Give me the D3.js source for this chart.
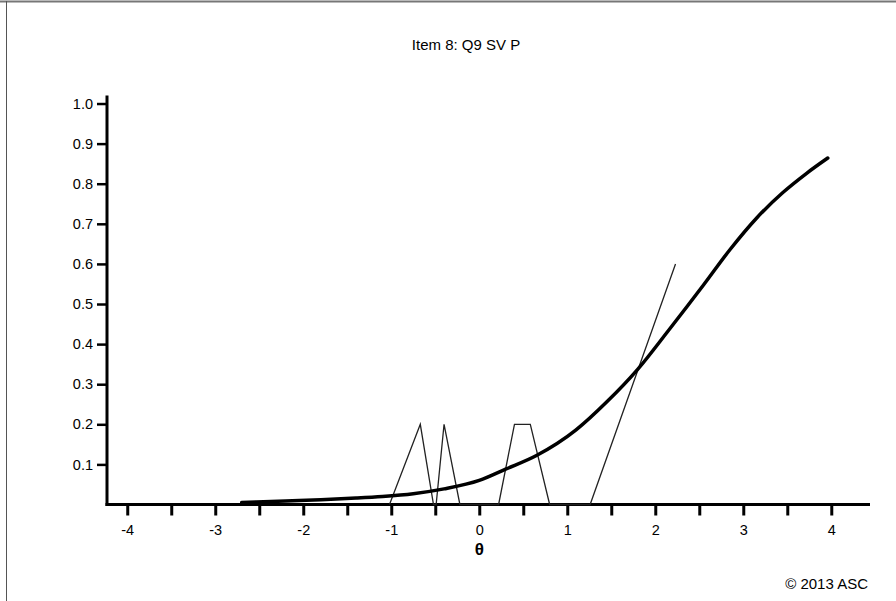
<!DOCTYPE html>
<html>
<head>
<meta charset="utf-8">
<script src="https://cdn.jsdelivr.net/npm/d3@7"></script>
<style>
  body { margin: 0; background: #fff; }
  svg { display: block; font-family: "Liberation Sans", Arial, sans-serif; }
</style>
</head>
<body>
<div id="chart"></div>
<script>
const width = 896;
const height = 601;

const title = "Item 8: Q9 SV P";
const xTicks = [-4, -3, -2, -1, 0, 1, 2, 3, 4];
const xMinorTicks = [-4, -3.5, -3, -2.5, -2, -1.5, -1, -0.5, 0, 0.5, 1, 1.5, 2, 2.5, 3, 3.5, 4];
const yTicks = [0.1, 0.2, 0.3, 0.4, 0.5, 0.6, 0.7, 0.8, 0.9, 1.0];

// item characteristic curve
const iccTheta = [-2.70, -2.2, -1.8, -1.4, -1.1, -0.75, -0.4, 0, 0.3, 0.65, 1.1, 1.45, 1.8, 2.15, 2.55, 2.85, 3.15, 3.45, 3.72, 3.96];
const iccProb  = [0.005, 0.009, 0.012, 0.016, 0.020, 0.027, 0.039, 0.060, 0.088, 0.122, 0.186, 0.256, 0.337, 0.434, 0.548, 0.636, 0.714, 0.778, 0.826, 0.864];

// observed proportions
const obsTheta = [-1.02, -0.67, -0.52, -0.49, -0.40, -0.22, 0.22, 0.40, 0.58, 0.80, 1.26, 2.23];
const obsProb  = [0, 0.2, 0, 0, 0.2, 0, 0, 0.2, 0.2, 0, 0, 0.6];

const svg = d3.select("#chart")
    .append("svg")
    .attr("width", width)
    .attr("height", height);

// frame
svg.append("line").attr("x1", 0).attr("x2", width).attr("y1", 1.5).attr("y2", 1.5)
    .attr("stroke", "#777").attr("stroke-width", 2);
svg.append("line").attr("x1", 6.5).attr("x2", 6.5).attr("y1", 1).attr("y2", height)
    .attr("stroke", "#555").attr("stroke-width", 1);

let x = d3.scaleLinear().domain([-4.23, 4.44]).range([107, 870]);
let y = d3.scaleLinear().domain([0, 1.02]).range([504.5, 95.5]);

svg.append("text")
    .attr("x", 466).attr("y", 50)
    .attr("text-anchor", "middle")
    .attr("font-size", 15)
    .text(title);

// y axis
let yAxis = d3.axisLeft(y)
    .tickValues(yTicks)
    .tickFormat(d3.format(".1f"))
    .tickSize(10)
    .tickPadding(4);
let gy = svg.append("g").attr("transform", "translate(107,0)").call(yAxis);
gy.select(".domain").remove();
gy.selectAll(".tick line").attr("stroke", "#000").attr("stroke-width", 2.5);
gy.selectAll(".tick text").attr("font-size", 14.5).attr("fill", "#000")
    .attr("font-family", "Liberation Sans, Arial, sans-serif");
svg.append("line").attr("x1", 107).attr("x2", 107).attr("y1", y(1.02)).attr("y2", 506)
    .attr("stroke", "#000").attr("stroke-width", 3);

// x axis
let gx = svg.append("g").attr("transform", "translate(0,504.5)")
    .call(d3.axisBottom(x).tickValues(xMinorTicks).tickSize(11).tickFormat(""));
gx.select(".domain").remove();
gx.selectAll(".tick line").attr("stroke", "#000").attr("stroke-width", 3);
let gxl = svg.append("g").attr("transform", "translate(0,504.5)")
    .call(d3.axisBottom(x).tickValues(xTicks).tickSize(0).tickPadding(20).tickFormat(d => String(d)));
gxl.select(".domain").remove();
gxl.selectAll(".tick text").attr("font-size", 14.5).attr("fill", "#000")
    .attr("font-family", "Liberation Sans, Arial, sans-serif");
svg.append("line").attr("x1", 105.5).attr("x2", 870).attr("y1", 504.5).attr("y2", 504.5)
    .attr("stroke", "#000").attr("stroke-width", 3);

svg.append("text")
    .attr("x", x(0)).attr("y", 555)
    .attr("text-anchor", "middle")
    .attr("font-size", 17)
    .attr("font-weight", "bold")
    .text("θ");

svg.append("text")
    .attr("x", 868).attr("y", 589)
    .attr("text-anchor", "end")
    .attr("font-size", 15)
    .text("© 2013 ASC");

let lineGenerator = d3.line()
    .x(d => x(d[0]))
    .y(d => y(d[1]));

svg.append("path")
    .attr("d", lineGenerator(d3.zip(obsTheta, obsProb)))
    .attr("fill", "none")
    .attr("stroke", "#222")
    .attr("stroke-width", 1.3);

svg.append("path")
    .attr("d", lineGenerator.curve(d3.curveMonotoneX)(d3.zip(iccTheta, iccProb)))
    .attr("fill", "none")
    .attr("stroke", "#000")
    .attr("stroke-width", 3.5)
    .attr("stroke-linecap", "round");
</script>
</body>
</html>
